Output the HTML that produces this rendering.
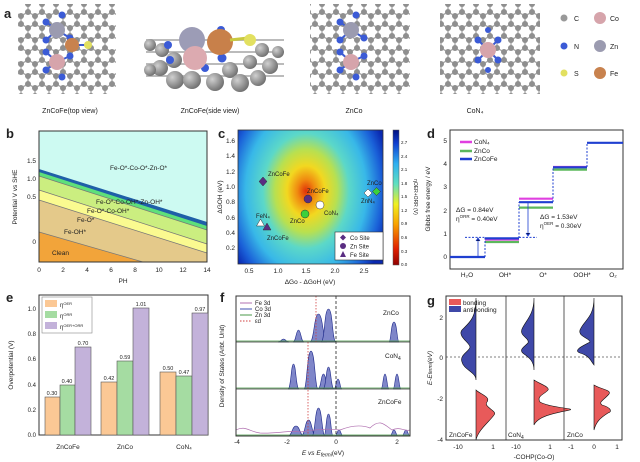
<!DOCTYPE html>
<html><head><meta charset="utf-8"><style>
html,body{margin:0;padding:0;background:#fff}
svg{display:block}
text{font-family:"Liberation Sans",sans-serif;fill:#222}
</style></head><body>
<svg width="640" height="462" viewBox="0 0 640 462" xmlns="http://www.w3.org/2000/svg">
<defs>
<pattern id="hex" width="14" height="24" patternUnits="userSpaceOnUse" x="0" y="0">
<path d="M7,0 L0,4 M7,0 L14,4 M0,4 L0,12 M14,4 L14,12 M0,12 L7,16 M14,12 L7,16 M7,16 L7,24" stroke="#aaa" stroke-width="1.4"/>
<circle cx="7" cy="0" r="3" fill="#8f8f8f"/><circle cx="0" cy="4" r="3" fill="#8f8f8f"/><circle cx="14" cy="4" r="3" fill="#8f8f8f"/>
<circle cx="0" cy="12" r="3" fill="#8f8f8f"/><circle cx="14" cy="12" r="3" fill="#8f8f8f"/><circle cx="7" cy="16" r="3" fill="#8f8f8f"/><circle cx="7" cy="24" r="3" fill="#8f8f8f"/>
</pattern>
<radialGradient id="heat" cx="306" cy="191" r="115" gradientUnits="userSpaceOnUse" gradientTransform="translate(306 191) scale(0.75 1) translate(-306 -191)">
<stop offset="0" stop-color="#e0300a"/><stop offset="0.1" stop-color="#f08a10"/><stop offset="0.22" stop-color="#f2d820"/>
<stop offset="0.36" stop-color="#b8e050"/><stop offset="0.5" stop-color="#5cd8c8"/><stop offset="0.7" stop-color="#38b8e8"/>
<stop offset="0.88" stop-color="#1a60d8"/><stop offset="1" stop-color="#0a28b0"/></radialGradient>
<linearGradient id="cbar" x1="0" y1="1" x2="0" y2="0">
<stop offset="0" stop-color="#900000"/><stop offset="0.12" stop-color="#e02000"/><stop offset="0.3" stop-color="#f8a000"/>
<stop offset="0.45" stop-color="#f0f020"/><stop offset="0.6" stop-color="#60e0c0"/><stop offset="0.75" stop-color="#30b0f0"/>
<stop offset="0.9" stop-color="#1040d0"/><stop offset="1" stop-color="#001080"/></linearGradient>
<radialGradient id="gC" cx="0.35" cy="0.35" r="0.7"><stop offset="0" stop-color="#d0d0d0"/><stop offset="1" stop-color="#6e6e6e"/></radialGradient>
</defs>

<text x="4" y="18" font-size="13" font-weight="bold">a</text>
<rect x="18" y="4" width="98" height="90" fill="url(#hex)"/>
<rect x="310" y="4" width="100" height="90" fill="url(#hex)"/>
<rect x="440" y="4" width="100" height="90" fill="url(#hex)"/>
<g stroke="#3d5bd0" stroke-width="2">
<path d="M57,30 L46,22 M57,30 L70,38 M57,62 L46,70 M57,62 L70,56 M57,30 L46,40 M57,62 L46,52 M72,45 L88,45"/>
<path d="M351,30 L340,22 M351,30 L364,38 M351,62 L340,70 M351,62 L364,56 M351,30 L340,40 M351,62 L340,52"/>
<path d="M488,50 L478,40 M488,50 L498,40 M488,50 L478,60 M488,50 L498,60"/>
</g>
<g fill="#3b5bd6">
<circle cx="62" cy="15" r="3.5"/><circle cx="46" cy="22" r="3.5"/><circle cx="70" cy="38" r="3.5"/><circle cx="46" cy="40" r="3.5"/><circle cx="46" cy="52" r="3.5"/><circle cx="70" cy="56" r="3.5"/><circle cx="46" cy="70" r="3.5"/><circle cx="62" cy="77" r="3.5"/>
<circle cx="356" cy="15" r="3.5"/><circle cx="340" cy="22" r="3.5"/><circle cx="364" cy="38" r="3.5"/><circle cx="340" cy="40" r="3.5"/><circle cx="340" cy="52" r="3.5"/><circle cx="364" cy="56" r="3.5"/><circle cx="340" cy="70" r="3.5"/><circle cx="356" cy="77" r="3.5"/>
<circle cx="478" cy="40" r="3.5"/><circle cx="498" cy="40" r="3.5"/><circle cx="478" cy="60" r="3.5"/><circle cx="498" cy="60" r="3.5"/><circle cx="488" cy="30" r="3"/><circle cx="488" cy="70" r="3"/>
</g>
<circle cx="57" cy="30" r="8" fill="#9b9bb0"/><circle cx="57" cy="62" r="8" fill="#d6a4ab"/><circle cx="72" cy="45" r="7" fill="#c8824e"/><circle cx="88" cy="45" r="4" fill="#e2e060"/>
<circle cx="351" cy="30" r="8" fill="#9b9bb0"/><circle cx="351" cy="62" r="8" fill="#d6a4ab"/>
<circle cx="488" cy="50" r="8" fill="#d6a4ab"/>
<g fill="url(#gC)">
<g stroke="#bbb" stroke-width="2"><path d="M146,40 H284 M146,52 H284 M146,64 H284 M146,76 H284"/></g>
<circle cx="150" cy="45" r="6"/><circle cx="162" cy="50" r="7"/><circle cx="174" cy="60" r="8"/><circle cx="160" cy="68" r="8"/><circle cx="175" cy="80" r="9"/><circle cx="192" cy="80" r="9"/>
<circle cx="150" cy="70" r="6"/><circle cx="215" cy="82" r="9"/><circle cx="230" cy="70" r="8"/><circle cx="240" cy="83" r="9"/><circle cx="258" cy="78" r="8"/><circle cx="270" cy="66" r="8"/><circle cx="262" cy="50" r="7"/><circle cx="278" cy="52" r="6"/><circle cx="250" cy="62" r="7"/>
</g>
<circle cx="168" cy="45" r="4" fill="#3b5bd6"/><circle cx="170" cy="60" r="4" fill="#3b5bd6"/><circle cx="222" cy="58" r="4.5" fill="#3b5bd6"/><circle cx="205" cy="68" r="4" fill="#3b5bd6"/><circle cx="221" cy="30" r="4" fill="#3b5bd6"/>
<circle cx="192" cy="40" r="13" fill="#9c9cb6"/><circle cx="195" cy="58" r="12" fill="#dcaab0"/><circle cx="220" cy="42" r="13" fill="#c8804a"/>
<path d="M230,40 L248,38" stroke="#c9c940" stroke-width="3"/><circle cx="250" cy="40" r="6" fill="#e2e060"/>
<circle cx="564" cy="18" r="3.5" fill="#999"/><text x="574" y="21" font-size="7">C</text>
<circle cx="600" cy="18" r="6" fill="#d6a4ab"/><text x="610" y="21" font-size="7">Co</text>
<circle cx="564" cy="46" r="3.5" fill="#3b5bd6"/><text x="574" y="49" font-size="7">N</text>
<circle cx="600" cy="46" r="6" fill="#9b9bb0"/><text x="610" y="49" font-size="7">Zn</text>
<circle cx="564" cy="73" r="3.5" fill="#e2e060"/><text x="574" y="76" font-size="7">S</text>
<circle cx="600" cy="73" r="6" fill="#c8824e"/><text x="610" y="76" font-size="7">Fe</text>
<g font-size="7" text-anchor="middle"><text x="70" y="113">ZnCoFe(top view)</text><text x="210" y="113">ZnCoFe(side view)</text><text x="354" y="113">ZnCo</text><text x="475" y="113">CoN₄</text></g>

<text x="6" y="138" font-size="13" font-weight="bold">b</text>
<rect x="39" y="131" width="168" height="131" fill="#cdfaf2"/>
<polygon points="39,169 207,222 207,262 39,262" fill="#1f5fa8"/>
<polygon points="39,172 207,226 207,262 39,262" fill="#5ee07a"/>
<polygon points="39,176 207,230 207,262 39,262" fill="#cbee80"/>
<polygon points="39,190 207,244 207,262 39,262" fill="#fafa90"/>
<polygon points="39,200 207,253 207,262 39,262" fill="#e4c98a"/>
<polygon points="39,232 143,262 39,262" fill="#f2a43a"/>
<g stroke="#777" stroke-width="0.7" fill="none"><path d="M39,176 L207,230 M39,190 L207,244 M39,200 L207,253 M39,232 L143,262"/></g>
<rect x="39" y="131" width="168" height="131" fill="none" stroke="#333" stroke-width="1"/>
<g font-size="6.5"><text x="110" y="170">Fe-O*-Co-O*-Zn-O*</text><text x="96" y="204">Fe-O*-Co-OH*-Zn-OH*</text><text x="87" y="213">Fe-O*-Co-OH*</text><text x="77" y="222">Fe-O*</text><text x="64" y="234">Fe-OH*</text><text x="52" y="255">Clean</text></g>
<g font-size="6.5" text-anchor="end"><text x="36" y="163">1.5</text><text x="36" y="181">1.0</text><text x="36" y="199">0.5</text><text x="36" y="244">0</text></g>
<g font-size="6.5" text-anchor="middle"><text x="39" y="272">0</text><text x="63" y="272">2</text><text x="87" y="272">4</text><text x="111" y="272">6</text><text x="135" y="272">8</text><text x="159" y="272">10</text><text x="183" y="272">12</text><text x="207" y="272">14</text><text x="123" y="283">PH</text></g>
<text x="17" y="197" font-size="6.5" text-anchor="middle" transform="rotate(-90 17 197)">Potential V vs SHE</text>

<text x="218" y="138" font-size="13" font-weight="bold">c</text>
<rect x="238" y="130" width="145" height="134" fill="url(#heat)" stroke="#333" stroke-width="0.8"/>
<rect x="393" y="130" width="6" height="135" fill="url(#cbar)" stroke="#555" stroke-width="0.5"/>
<g font-size="4.5"><text x="401" y="266">0.0</text><text x="401" y="253">0.3</text><text x="401" y="239">0.6</text><text x="401" y="225">0.9</text><text x="401" y="212">1.2</text><text x="401" y="198">1.5</text><text x="401" y="185">1.8</text><text x="401" y="171">2.1</text><text x="401" y="158">2.4</text><text x="401" y="144">2.7</text></g>
<text x="414" y="197" font-size="5" text-anchor="middle" transform="rotate(90 414 197)">ηOER+ORR (V)</text>
<g font-size="6.5" text-anchor="end"><text x="235" y="143">1.6</text><text x="235" y="158">1.4</text><text x="235" y="174">1.2</text><text x="235" y="189">1.0</text><text x="235" y="204">0.8</text><text x="235" y="220">0.6</text><text x="235" y="235">0.4</text><text x="235" y="250">0.2</text></g>
<g font-size="6.5" text-anchor="middle"><text x="249" y="273">0.5</text><text x="278" y="273">1.0</text><text x="306" y="273">1.5</text><text x="335" y="273">2.0</text><text x="364" y="273">2.5</text><text x="310" y="284">ΔGo - ΔGoH  (eV)</text></g>
<text x="222" y="197" font-size="6.5" text-anchor="middle" transform="rotate(-90 222 197)">ΔGOH (eV)</text>
<polygon points="263,177 267,181.5 263,186 259,181.5" fill="#5a2d82" stroke="#333" stroke-width="0.5"/>
<circle cx="308" cy="199" r="4" fill="#5a2d82" stroke="#333" stroke-width="0.5"/>
<circle cx="320" cy="205" r="4" fill="#fff" stroke="#333" stroke-width="0.5"/>
<circle cx="305" cy="214" r="4" fill="#3bd13b" stroke="#333" stroke-width="0.5"/>
<polygon points="260.5,219 264.5,226 256.5,226" fill="#fff" stroke="#333" stroke-width="0.5"/>
<polygon points="267,223 271,230 263,230" fill="#5a2d82" stroke="#333" stroke-width="0.5"/>
<polygon points="368,189 372,193 368,197 364,193" fill="#fff" stroke="#333" stroke-width="0.5"/>
<polygon points="376.5,187.5 380.5,191.5 376.5,195.5 372.5,191.5" fill="#3bd13b" stroke="#333" stroke-width="0.5"/>
<g font-size="6"><text x="268" y="176">ZnCoFe</text><text x="307" y="193">ZnCoFe</text><text x="324" y="215">CoN₄</text><text x="290" y="223">ZnCo</text><text x="256" y="218">FeN₄</text><text x="267" y="240">ZnCoFe</text><text x="367" y="185">ZnCo</text><text x="361" y="203">ZnN₄</text></g>
<rect x="335" y="232" width="48" height="28" fill="#fff" stroke="#333" stroke-width="0.6"/>
<polygon points="343,234.5 346,237.5 343,240.5 340,237.5" fill="#5a2d82"/><text x="350" y="240" font-size="6">Co Site</text>
<circle cx="343" cy="246" r="3" fill="#5a2d82"/><text x="350" y="248.5" font-size="6">Zn Site</text>
<polygon points="343,251 346,257 340,257" fill="#5a2d82"/><text x="350" y="257" font-size="6">Fe Site</text>

<text x="427" y="138" font-size="13" font-weight="bold">d</text>
<rect x="450" y="130" width="173" height="139" fill="none" stroke="#333" stroke-width="1"/>
<g font-size="6.5" text-anchor="end"><text x="447" y="259">0</text><text x="447" y="236">1</text><text x="447" y="213">2</text><text x="447" y="189">3</text><text x="447" y="166">4</text><text x="447" y="143">5</text></g>
<text x="430" y="199" font-size="6.5" text-anchor="middle" transform="rotate(-90 430 199)">Gibbs free energy / eV</text>
<g stroke-width="2.2" fill="none">
<path d="M485,239.5 H519 M519,198.7 H553 M553,167 H587" stroke="#e040e0"/>
<path d="M485,242 H519 M519,207.6 H553 M553,169.6 H587" stroke="#5cb85c"/>
<path d="M450,257 H485 M485,238.4 H519 M519,202.2 H553 M553,167.3 H587 M587,142.8 H623" stroke="#1f3fd0"/>
</g>
<g stroke="#1f3fd0" stroke-width="1" stroke-dasharray="2,1.5" fill="none">
<path d="M485,257 V238 M519,238 V202 M553,202 V167 M587,167 V143 M465,237.4 H485 M519,237.4 H537"/>
</g>
<g stroke="#1f3fd0" stroke-width="0.8"><path d="M478,256 V239 M476,241 L478,238 L480,241 M528,203 V236 M526,233 L528,236 L530,233"/></g>
<g font-size="6.5"><text x="456" y="212">ΔG = 0.84eV</text><text x="456" y="221">η<tspan font-size="4.5" dy="-3">ORR</tspan><tspan dy="3"> = 0.40eV</tspan></text>
<text x="540" y="219">ΔG = 1.53eV</text><text x="540" y="228">η<tspan font-size="4.5" dy="-3">OER</tspan><tspan dy="3"> = 0.30eV</tspan></text></g>
<path d="M460,142 H472" stroke="#e040e0" stroke-width="2.5"/><text x="474" y="144" font-size="6.5">CoN₄</text>
<path d="M460,151 H472" stroke="#5cb85c" stroke-width="2.5"/><text x="474" y="153" font-size="6.5">ZnCo</text>
<path d="M460,159 H472" stroke="#1f3fd0" stroke-width="2.5"/><text x="474" y="161" font-size="6.5">ZnCoFe</text>
<g font-size="6.5" text-anchor="middle"><text x="467" y="277">H₂O</text><text x="505" y="277">OH*</text><text x="543" y="277">O*</text><text x="582" y="277">OOH*</text><text x="613" y="277">O₂</text></g>

<text x="6" y="302" font-size="13" font-weight="bold">e</text>
<rect x="39" y="295" width="169" height="140" fill="none" stroke="#333" stroke-width="1"/>
<g stroke="#555" stroke-width="0.6">
<rect x="45" y="397" width="15" height="38" fill="#fbc895"/><rect x="60" y="385" width="15" height="50" fill="#a5dca2"/><rect x="75" y="347" width="16" height="88" fill="#c3b2da"/>
<rect x="101" y="382" width="16" height="53" fill="#fbc895"/><rect x="117" y="361" width="16" height="74" fill="#a5dca2"/><rect x="133" y="308" width="16" height="127" fill="#c3b2da"/>
<rect x="160" y="372" width="16" height="63" fill="#fbc895"/><rect x="176" y="376" width="16" height="59" fill="#a5dca2"/><rect x="192" y="313" width="16" height="122" fill="#c3b2da"/>
</g>
<g font-size="5.5" text-anchor="middle"><text x="52" y="395">0.30</text><text x="67" y="383">0.40</text><text x="83" y="345">0.70</text><text x="109" y="380">0.42</text><text x="125" y="359">0.59</text><text x="141" y="306">1.01</text><text x="168" y="370">0.50</text><text x="184" y="374">0.47</text><text x="200" y="311">0.97</text></g>
<g font-size="6" text-anchor="end"><text x="36" y="437">0.0</text><text x="36" y="412">0.2</text><text x="36" y="387">0.4</text><text x="36" y="361">0.6</text><text x="36" y="336">0.8</text><text x="36" y="311">1.0</text></g>
<text x="13" y="365" font-size="6.5" text-anchor="middle" transform="rotate(-90 13 365)">Overpotential (V)</text>
<rect x="42" y="297" width="50" height="36" fill="#fff" stroke="#888" stroke-width="0.6"/>
<rect x="45" y="300" width="12" height="7" fill="#fbc895"/><text x="60" y="307" font-size="6">η<tspan font-size="4" dy="-2">OER</tspan></text>
<rect x="45" y="311" width="12" height="7" fill="#a5dca2"/><text x="60" y="318" font-size="6">η<tspan font-size="4" dy="-2">ORR</tspan></text>
<rect x="45" y="322" width="12" height="7" fill="#c3b2da"/><text x="60" y="329" font-size="6">η<tspan font-size="4" dy="-2">OER+ORR</tspan></text>
<g font-size="6.5" text-anchor="middle"><text x="68" y="449">ZnCoFe</text><text x="125" y="449">ZnCo</text><text x="184" y="449">CoN₄</text></g>

<text x="220" y="302" font-size="13" font-weight="bold">f</text>
<g fill="#7f86c9" stroke="#1f2a8a" stroke-width="0.6">
<path d="M278,342 C281,342 281,339 283.5,339 C286,339 286,342 289,342Z"/>
<path d="M293,342 C296,342 296,330 298.5,330 C301,330 301,342 304,342Z"/>
<path d="M310,342 C314,342 314,314 318.5,314 C323,314 323,342 327,342Z"/>
<path d="M321,342 C325,342 324,309 328.5,309 C333,309 332,342 336,342Z"/>
<path d="M389,342 C391,342 391,322 394,322 C397,322 397,342 399,342Z"/>
<path d="M288,389 C291,389 291,364 293.5,364 C296,364 296,389 299,389Z"/>
<path d="M304,389 C307,389 307,351 311,351 C315,351 315,389 318,389Z"/>
<path d="M318,389 C321,389 321,374 323.5,374 C326,374 326,389 329,389Z"/>
<path d="M323,389 C326,389 326,367 328.5,367 C331,367 331,389 334,389Z"/>
<path d="M334,389 C336,389 336,379 338,379 C340,379 340,389 342,389Z"/>
<path d="M381,389 C383,389 383,374 385,374 C387,374 387,389 389,389Z"/>
<path d="M393,389 C395,389 395,374 397,374 C399,374 399,389 401,389Z"/>
<path d="M288,436 C292,436 292,426 296,426 C300,426 300,436 304,436Z"/>
<path d="M301,436 C305,436 305,420 308.5,420 C312,420 312,436 316,436Z"/>
<path d="M312,436 C315,436 315,408 318.5,408 C322,408 322,436 325,436Z"/>
<path d="M324,436 C326,436 326,414 328.5,414 C331,414 331,436 333,436Z"/>
<path d="M335,436 C337,436 337,430 339,430 C341,430 341,436 343,436Z"/>
<path d="M390,436 C392,436 392,430 394,430 C396,430 396,436 398,436Z"/>
<path d="M402,436 C404,436 404,430 406,430 C408,430 408,436 410,436Z"/>
</g>
<path d="M236,430 C245,425 250,432 260,433 C275,434 290,430 300,432 C315,430 325,428 340,430 C350,426 360,424 370,428 C380,418 385,425 392,430 C400,426 405,432 410,430" fill="none" stroke="#b070b0" stroke-width="0.7"/>
<path d="M236,341 H410 M236,388 H410 M236,435 H410" stroke="#4a9a4a" stroke-width="0.8"/>
<path d="M316,296 V342 M308,342 V436" stroke="#d04040" stroke-width="0.8" stroke-dasharray="1.5,1.5"/>
<path d="M336,296 V436" stroke="#222" stroke-width="0.8" stroke-dasharray="3,2"/>
<rect x="236" y="296" width="174" height="140" fill="none" stroke="#333" stroke-width="1"/>
<path d="M236,342 H410 M236,389 H410" stroke="#333" stroke-width="0.8"/>
<g font-size="6.5"><text x="383" y="315">ZnCo</text><text x="385" y="358">CoN<tspan font-size="5" dy="2">4</tspan></text><text x="378" y="404">ZnCoFe</text></g>
<path d="M240,303 H252" stroke="#b070b0"/><text x="255" y="305" font-size="6">Fe 3d</text>
<path d="M240,309 H252" stroke="#4050b0"/><text x="255" y="311" font-size="6">Co 3d</text>
<path d="M240,315 H252" stroke="#4a9a4a"/><text x="255" y="317" font-size="6">Zn 3d</text>
<path d="M240,321 H252" stroke="#d04040" stroke-dasharray="1.5,1.5"/><text x="255" y="323" font-size="6">εd</text>
<g font-size="6.5" text-anchor="middle"><text x="237" y="444">-4</text><text x="287" y="444">-2</text><text x="336" y="444">0</text><text x="397" y="444">2</text><text x="323" y="455"><tspan font-style="italic">E vs E<tspan font-size="5" dy="1.5">fermi</tspan></tspan><tspan dy="-1.5">(eV)</tspan></text></g>
<text x="224" y="366" font-size="6.5" text-anchor="middle" transform="rotate(-90 224 366)">Density of States (Arbt. Unit)</text>

<text x="427" y="305" font-size="13" font-weight="bold">g</text>
<path d="M446,357 H622" stroke="#555" stroke-width="0.7" stroke-dasharray="2,2"/>
<g fill="#3f48a8" stroke="#111" stroke-width="0.6">
<path d="M476,298 C476,318 470,322 462,330 C457,336 470,343 470,347 C470,351 459,355 462,362 C464,370 476,372 476,380Z"/>
<path d="M534,298 C534,315 526,320 522,329 C519,336 530,338 528,343 C524,347 518,350 524,354 C530,358 534,362 534,370Z"/>
<path d="M594,298 C594,318 584,320 580,330 C578,337 590,338 590,342 C585,345 572,350 580,353 C590,356 590,360 594,365Z"/>
</g>
<g fill="#e85a5a" stroke="#111" stroke-width="0.6">
<path d="M476,390 C480,394 491,397 487,402 C483,407 498,411 494,415 C490,421 478,430 476,440Z"/>
<path d="M534,380 C540,384 550,387 548,390 C545,394 536,396 540,402 C550,408 575,408 570,410 C555,413 538,416 534,425Z"/>
<path d="M594,385 C600,389 612,390 609,394 C604,400 598,402 602,405 C612,408 612,412 608,413 C600,418 596,422 594,430Z"/>
</g>
<rect x="446" y="296" width="176" height="144" fill="none" stroke="#333" stroke-width="1"/>
<path d="M506,296 V440 M564,296 V440" stroke="#333" stroke-width="0.8"/>
<rect x="449" y="299" width="12" height="6" fill="#e85a5a"/><text x="463" y="305" font-size="6.5">bonding</text>
<rect x="449" y="306" width="12" height="6" fill="#3f48a8"/><text x="463" y="312" font-size="6.5">antibonding</text>
<g font-size="6.5"><text x="449" y="437">ZnCoFe</text><text x="508" y="437">CoN<tspan font-size="5" dy="2">4</tspan></text><text x="567" y="437">ZnCo</text></g>
<g font-size="6.5" text-anchor="end"><text x="443" y="320">2</text><text x="443" y="360">0</text><text x="443" y="401">-2</text><text x="443" y="442">-4</text></g>
<g font-size="6.5" text-anchor="middle"><text x="458" y="449">-10</text><text x="493" y="449">1</text><text x="516" y="449">-10</text><text x="550" y="449">1</text><text x="571" y="449">-1</text><text x="594" y="449">0</text><text x="617" y="449">1</text><text x="534" y="459">-COHP(Co-O)</text></g>
<text x="432" y="368" font-size="6.5" text-anchor="middle" font-style="italic" transform="rotate(-90 432 368)">E-E<tspan font-size="5">fermi</tspan>(eV)</text>
</svg>
</body></html>
